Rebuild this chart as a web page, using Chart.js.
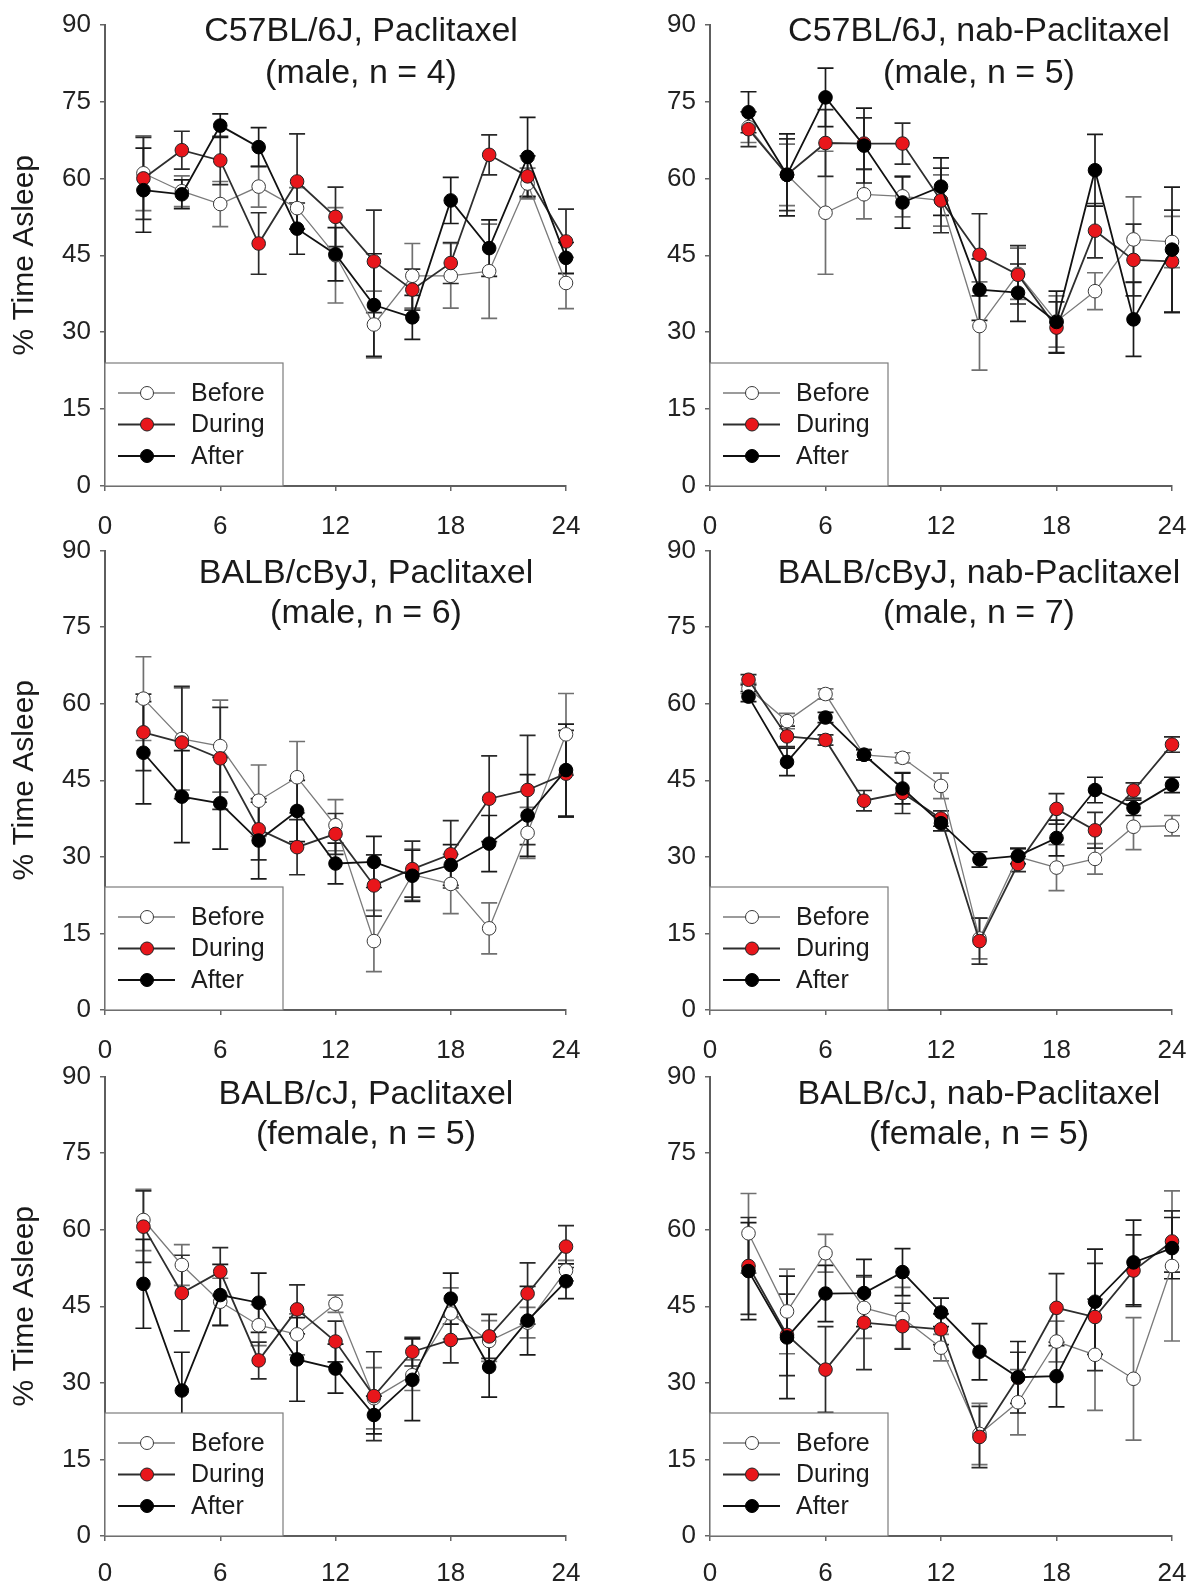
<!DOCTYPE html>
<html>
<head>
<meta charset="utf-8">
<script src="https://cdn.jsdelivr.net/npm/chart.js@4/dist/chart.umd.min.js"></script>
<style>
  html, body { margin: 0; padding: 0; background: #fff; }
  #page { position: relative; width: 1196px; height: 1583px; overflow: hidden; }
  #page canvas { position: absolute; }
</style>
</head>
<body>
<div id="page"></div>
<script>
// hours after start (x values), shared by every panel
var hours = [2, 4, 6, 8, 10, 12, 14, 16, 18, 20, 22, 24];
var xTicks = [0, 6, 12, 18, 24];
var yTicks = [0, 15, 30, 45, 60, 75, 90];
var seriesNames = ['Before', 'During', 'After'];

// C57BL/6J, Paclitaxel
var c57PacBefore = [61, 57.5, 55, 58.4, 54.2, 45, 31.5, 41, 41, 41.9, 59, 39.6];
var c57PacBeforeErr = [7.3, 3, 4.4, 4, 4, 9.3, 6.5, 6.3, 6.3, 9.2, 3, 5];
var c57PacDuring = [60, 65.5, 63.5, 47.3, 59.4, 52.5, 43.8, 38.3, 43.5, 64.6, 60.4, 47.7];
var c57PacDuringErr = [8, 3.7, 4.7, 6, 9.3, 5.8, 10, 4, 4, 3.9, 4, 6.3];
var c57PacAfter = [57.7, 56.9, 70.3, 66.1, 50.2, 45.2, 35.3, 32.9, 55.7, 46.4, 64.2, 44.5];
var c57PacAfterErr = [8.2, 2.8, 2.3, 3.8, 5, 5.2, 10, 4.3, 4.5, 5.5, 7.7, 3];

// C57BL/6J, nab-Paclitaxel
var c57NabBefore = [70, 60.7, 53.3, 56.9, 56.5, 55.7, 31.2, 41.4, 32.1, 38, 48.1, 47.6];
var c57NabBeforeErr = [3, 6, 12, 4.8, 4, 5, 8.6, 5, 5, 3.6, 8.3, 5];
var c57NabDuring = [69.6, 60.7, 66.9, 66.8, 66.8, 55.7, 45.1, 41.2, 30.9, 49.8, 44.1, 43.8];
var c57NabDuringErr = [3.4, 7, 6.5, 5, 4, 6.3, 8, 5.7, 5, 5.3, 7, 10];
var c57NabAfter = [72.9, 60.7, 75.8, 66.4, 55.3, 58.4, 38.3, 37.7, 32, 61.6, 32.5, 46.1];
var c57NabAfterErr = [4, 8, 5.7, 7.3, 5, 5.6, 6, 5.6, 6, 7, 7.2, 12.2];

// BALB/cByJ, Paclitaxel
var byjPacBefore = [61, 53.1, 51.7, 41, 45.6, 36.2, 13.5, 26.5, 24.7, 16, 34.7, 54];
var byjPacBeforeErr = [8.2, 10, 9, 7, 7, 5, 6, 5, 5.8, 5, 5, 8];
var byjPacDuring = [54.4, 52.4, 49.3, 35.4, 31.9, 34.5, 24.4, 27.6, 30.5, 41.4, 43.1, 46.3];
var byjPacDuringErr = [7.5, 11, 10, 6, 5.4, 4, 6, 5.5, 6.6, 8.4, 10.7, 8.5];
var byjPacAfter = [50.4, 41.8, 40.5, 33.2, 39, 28.7, 29, 26.3, 28.4, 32.6, 38.1, 47];
var byjPacAfterErr = [10, 9, 9, 7.5, 6, 4, 5, 5, 4, 5.5, 8, 9];

// BALB/cByJ, nab-Paclitaxel
var byjNabBefore = [63, 56.6, 61.9, 50, 49.4, 43.9, 14, 30, 27.9, 29.6, 35.9, 36.1];
var byjNabBeforeErr = [1, 1.5, 1, 1, 1, 2.5, 4, 1.5, 4.5, 3, 4.5, 2];
var byjNabDuring = [64.7, 53.6, 52.9, 41, 42.5, 37.5, 13.5, 28.6, 39.4, 35.2, 43, 52];
var byjNabDuringErr = [1, 2, 1, 2, 4, 1.5, 4.5, 1.5, 3, 3.5, 1.5, 1.5];
var byjNabAfter = [61.4, 48.6, 57.3, 50, 43.4, 36.6, 29.5, 30.2, 33.7, 43.1, 39.6, 44.1];
var byjNabAfterErr = [1, 2.7, 1, 1, 3, 1.5, 1.5, 1.5, 3.5, 2.5, 1.5, 1.5];

// BALB/cJ, Paclitaxel
var cjPacBefore = [61.9, 53.1, 45.9, 41.3, 39.5, 45.5, 27, 31.5, 43.6, 38.2, 41.8, 52];
var cjPacBeforeErr = [6, 4, 4.6, 4, 4, 1.7, 6, 3, 5, 4, 3, 2];
var cjPacDuring = [60.6, 47.6, 51.8, 34.4, 44.4, 38.1, 27.4, 36.1, 38.4, 39.1, 47.5, 56.7];
var cjPacDuringErr = [7, 7.4, 4.7, 3.6, 4.8, 4, 8.7, 2.8, 4.5, 4.3, 6, 4.1];
var cjPacAfter = [49.4, 28.5, 47.2, 45.7, 34.6, 32.8, 23.7, 30.6, 46.5, 33.1, 42.2, 49.9];
var cjPacAfterErr = [8.7, 7.5, 6, 5.8, 8.2, 4.8, 3.7, 8, 5, 5.9, 6.7, 3.4];

// BALB/cJ, nab-Paclitaxel
var cjNabBefore = [59.3, 44, 55.4, 44.7, 42.7, 36.9, 20, 26.2, 38.1, 35.5, 30.8, 52.9];
var cjNabBeforeErr = [7.8, 8.3, 3.7, 6, 6, 2.6, 6, 6.4, 4, 10.9, 12, 14.7];
var cjNabDuring = [52.9, 39.4, 32.6, 41.8, 41.1, 40.5, 19.4, 31, 44.7, 42.9, 52, 57.7];
var cjNabDuringErr = [9.5, 8, 8.4, 9.2, 4.5, 3, 6, 5, 6.7, 10.5, 7, 6];
var cjNabAfter = [51.9, 38.9, 47.5, 47.6, 51.7, 43.8, 36.1, 31.1, 31.3, 45.9, 53.6, 56.4];
var cjNabAfterErr = [9.5, 12, 5.5, 6.6, 4.6, 2.8, 5.5, 7, 6, 10.3, 8.3, 6];

Chart.defaults.font.family = '"Liberation Sans", Arial, Helvetica, sans-serif';
Chart.defaults.color = '#222';

var styles = [
    { line: '#7a7a7a', width: 1.3, fill: '#ffffff', edge: '#3a3a3a', err: '#707070', order: 3 },
    { line: '#2e2e2e', width: 1.8, fill: '#e8161b', edge: '#222222', err: '#2a2a2a', order: 2 },
    { line: '#111111', width: 1.8, fill: '#000000', edge: '#000000', err: '#1a1a1a', order: 1 }
];

// vertical error bars with caps, drawn through the y scale
var errorBars = {
    id: 'errorBars',
    beforeDatasetsDraw: function(chart) {
        var ctx = chart.ctx;
        var ys = chart.scales.y;
        chart.data.datasets.forEach(function(ds, i) {
            var meta = chart.getDatasetMeta(i);
            ctx.save();
            ctx.strokeStyle = ds.errColor;
            ctx.lineWidth = 1.7;
            meta.data.forEach(function(pt, j) {
                var v = ds.data[j].y, e = ds.err[j];
                var top = ys.getPixelForValue(v + e);
                var bot = ys.getPixelForValue(v - e);
                ctx.beginPath();
                ctx.moveTo(pt.x, top); ctx.lineTo(pt.x, bot);
                ctx.moveTo(pt.x - 8, top); ctx.lineTo(pt.x + 8, top);
                ctx.moveTo(pt.x - 8, bot); ctx.lineTo(pt.x + 8, bot);
                ctx.stroke();
            });
            ctx.restore();
        });
    }
};

// boxed legend in the lower left corner of the plot
var boxLegend = {
    id: 'boxLegend',
    afterDraw: function(chart) {
        var ctx = chart.ctx;
        var a = chart.chartArea;
        var x0 = a.left, y0 = a.bottom - 123;
        ctx.save();
        ctx.fillStyle = '#fff';
        ctx.fillRect(x0, y0, 178, 123);
        ctx.strokeStyle = '#7c7c7c';
        ctx.lineWidth = 1.2;
        ctx.strokeRect(x0, y0, 178, 123);
        chart.data.datasets.forEach(function(ds, i) {
            var yy = y0 + 30 + i * 31.5;
            ctx.strokeStyle = ds.borderColor;
            ctx.lineWidth = ds.borderWidth;
            ctx.beginPath();
            ctx.moveTo(x0 + 13, yy); ctx.lineTo(x0 + 70, yy);
            ctx.stroke();
            ctx.beginPath();
            ctx.arc(x0 + 42, yy, 6.5, 0, Math.PI * 2);
            ctx.fillStyle = ds.pointBackgroundColor;
            ctx.fill();
            ctx.lineWidth = 1;
            ctx.strokeStyle = ds.pointBorderColor;
            ctx.stroke();
            ctx.fillStyle = '#1c1c1c';
            ctx.font = '25px "Liberation Sans", Arial, sans-serif';
            ctx.textBaseline = 'middle';
            ctx.textAlign = 'left';
            ctx.fillText(ds.label, x0 + 86, yy + 1);
        });
        ctx.restore();
    }
};

// two-line panel title (sits a little right of the plot centre, as in the figure)
var panelTitle = {
    id: 'panelTitle',
    afterDraw: function(chart, args, opts) {
        var ctx = chart.ctx;
        ctx.save();
        ctx.fillStyle = '#1a1a1a';
        ctx.font = '34px "Liberation Sans", Arial, sans-serif';
        ctx.textAlign = 'center';
        ctx.textBaseline = 'alphabetic';
        ctx.fillText(opts.lines[0], opts.x, opts.y[0]);
        ctx.fillText(opts.lines[1], opts.x, opts.y[1]);
        ctx.restore();
    }
};

function pts(vals) {
    return vals.map(function(v, i) { return { x: hours[i], y: v }; });
}

var panels = [
    { title: ['C57BL/6J, Paclitaxel', '(male, n = 4)'], col: 0, row: 0, titleX: 361, titleY: [41, 83],
      vals: [c57PacBefore, c57PacDuring, c57PacAfter], errs: [c57PacBeforeErr, c57PacDuringErr, c57PacAfterErr] },
    { title: ['C57BL/6J, nab-Paclitaxel', '(male, n = 5)'], col: 1, row: 0, titleX: 979, titleY: [41, 83],
      vals: [c57NabBefore, c57NabDuring, c57NabAfter], errs: [c57NabBeforeErr, c57NabDuringErr, c57NabAfterErr] },
    { title: ['BALB/cByJ, Paclitaxel', '(male, n = 6)'], col: 0, row: 1, titleX: 366, titleY: [57, 97],
      vals: [byjPacBefore, byjPacDuring, byjPacAfter], errs: [byjPacBeforeErr, byjPacDuringErr, byjPacAfterErr] },
    { title: ['BALB/cByJ, nab-Paclitaxel', '(male, n = 7)'], col: 1, row: 1, titleX: 979, titleY: [57, 97],
      vals: [byjNabBefore, byjNabDuring, byjNabAfter], errs: [byjNabBeforeErr, byjNabDuringErr, byjNabAfterErr] },
    { title: ['BALB/cJ, Paclitaxel', '(female, n = 5)'], col: 0, row: 2, titleX: 366, titleY: [52, 92],
      vals: [cjPacBefore, cjPacDuring, cjPacAfter], errs: [cjPacBeforeErr, cjPacDuringErr, cjPacAfterErr] },
    { title: ['BALB/cJ, nab-Paclitaxel', '(female, n = 5)'], col: 1, row: 2, titleX: 979, titleY: [52, 92],
      vals: [cjNabBefore, cjNabDuring, cjNabAfter], errs: [cjNabBeforeErr, cjNabDuringErr, cjNabAfterErr] }
];

// canvas rows and plot-area edges in page pixels
var rowTop = [0, 526, 1052];
var canvasH = 570;
var plotTop = [21, 547, 1072];
var plotBottom = [486, 1010, 1536];
var xLabelLine = [2.04, 2.1, 1.85];
var colLeft = [0, 598];
var plotLeft = [105, 710];
var plotRight = [566, 1172];
var xAxisH = 62;

var page = document.getElementById('page');

panels.forEach(function(p) {
    var canvas = document.createElement('canvas');
    canvas.width = 598;
    canvas.height = canvasH;
    canvas.style.left = colLeft[p.col] + 'px';
    canvas.style.top = rowTop[p.row] + 'px';
    page.appendChild(canvas);

    var yWidth = plotLeft[p.col] - colLeft[p.col];
    var padRight = 598 - (plotRight[p.col] - colLeft[p.col]);
    var padTop = plotTop[p.row] - rowTop[p.row];
    var padBottom = canvasH - (plotBottom[p.row] - rowTop[p.row]) - xAxisH;

    var datasets = seriesNames.map(function(name, k) {
        var s = styles[k];
        return {
            label: name,
            data: pts(p.vals[k]),
            err: p.errs[k],
            errColor: s.err,
            borderColor: s.line,
            borderWidth: s.width,
            pointRadius: 6.8,
            pointHoverRadius: 6.8,
            pointBackgroundColor: s.fill,
            pointBorderColor: s.edge,
            pointBorderWidth: 1,
            tension: 0,
            clip: false,
            order: s.order
        };
    });

    new Chart(canvas.getContext('2d'), {
        type: 'line',
        data: { datasets: datasets },
        options: {
            responsive: false,
            animation: false,
            events: [],
            layout: { padding: { left: 0, right: padRight, top: padTop, bottom: padBottom } },
            plugins: {
                legend: { display: false },
                tooltip: { enabled: false },
                panelTitle: { lines: p.title, y: p.titleY, x: p.titleX - colLeft[p.col] }
            },
            scales: {
                x: {
                    type: 'linear',
                    min: 0,
                    max: 24,
                    afterBuildTicks: function(s) { s.ticks = xTicks.map(function(v) { return { value: v }; }); },
                    afterFit: function(s) { s.height = xAxisH; },
                    ticks: { font: { size: 26, lineHeight: xLabelLine[p.row] }, color: '#222', padding: 9, maxRotation: 0 },
                    grid: { drawOnChartArea: false, drawTicks: true, tickLength: 5, color: '#666', lineWidth: 1.5 },
                    border: { display: true, color: '#5e5e5e', width: 2 }
                },
                y: {
                    min: 0,
                    max: 90,
                    afterBuildTicks: function(s) { s.ticks = yTicks.map(function(v) { return { value: v }; }); },
                    afterFit: function(s) { s.width = yWidth; },
                    ticks: { font: { size: 26 }, color: '#222', padding: 9 },
                    grid: { drawOnChartArea: false, drawTicks: true, tickLength: 5, color: '#666', lineWidth: 1.5 },
                    border: { display: true, color: '#5e5e5e', width: 2 },
                    title: {
                        display: p.col === 0,
                        text: '% Time Asleep',
                        font: { size: 30 },
                        color: '#1a1a1a',
                        padding: { top: 7, bottom: 0 }
                    }
                }
            }
        },
        plugins: [errorBars, boxLegend, panelTitle]
    });
});
</script>
</body>
</html>
